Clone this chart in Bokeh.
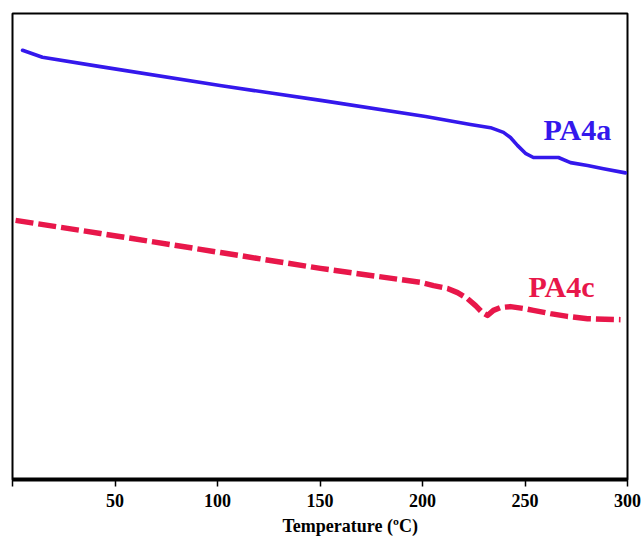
from bokeh.plotting import figure
from bokeh.models import FixedTicker, Range1d, Label, Title
from bokeh.embed import file_html
from bokeh.resources import INLINE

# PA4a (solid blue)
temp_a = [4.9, 14.6, 42.9, 102.0, 151.2, 201.5, 223.4, 233.2, 239.5, 242.9, 246.3, 250.2, 254.1,
          261.0, 266.3, 272.2, 280.5, 288.3, 299.0]
flow_a = [9.21, 9.06, 8.86, 8.45, 8.13, 7.79, 7.62, 7.55, 7.45, 7.34, 7.17, 7.00, 6.91,
          6.91, 6.91, 6.80, 6.74, 6.67, 6.58]

# PA4c (dashed red)
temp_c = [1.5, 42.9, 101.5, 150.2, 189.3, 199.0, 205.4, 212.2, 217.1, 222.0, 225.9, 229.3, 231.7,
          234.6, 238.0, 242.9, 249.3, 254.1, 262.4, 270.7, 280.5, 296.6]
flow_c = [5.56, 5.28, 4.87, 4.53, 4.29, 4.23, 4.16, 4.10, 4.01, 3.88, 3.73, 3.58, 3.52,
          3.63, 3.69, 3.71, 3.67, 3.63, 3.56, 3.50, 3.45, 3.43]

tick_values = [0, 50, 100, 150, 200, 250, 300]
tick_labels = ["", "50", "100", "150", "200", "250", "300"]

label_a = "PA4a"
label_a_pos = (259.0, 7.16)
label_c = "PA4c"
label_c_pos = (251.7, 3.79)

x_title = "Temperature (\u00baC)"

BLUE = "#3418EC"
RED = "#E8174A"
SERIF = "Liberation Serif"

p = figure(width=643, height=540, output_backend="svg", toolbar_location=None,
           x_range=Range1d(0, 300), y_range=Range1d(0, 10), y_axis_location=None,
           min_border_left=12, min_border_right=16, min_border_top=13, min_border_bottom=61)

p.xgrid.visible = False
p.ygrid.visible = False
p.outline_line_color = "black"
p.outline_line_width = 2
p.background_fill_color = "white"
p.border_fill_color = "white"

ax = p.xaxis[0]
ax.ticker = FixedTicker(ticks=tick_values)
ax.major_label_overrides = {v: t for v, t in zip(tick_values, tick_labels)}
ax.axis_line_width = 4
ax.axis_line_color = "black"
ax.major_tick_in = 0
ax.major_tick_out = 7
ax.major_tick_line_width = 1.5
ax.minor_tick_line_color = None
ax.major_label_standoff = 7
ax.major_label_text_font = SERIF
ax.major_label_text_font_style = "bold"
ax.major_label_text_font_size = "18px"
ax.major_label_text_color = "black"

p.add_layout(Title(text=x_title, align="left", offset=270, standoff=9,
                   text_font=SERIF, text_font_size="18px", text_font_style="bold",
                   text_color="black"), "below")

p.line(temp_a, flow_a, line_color=BLUE, line_width=3.6, line_join="round", line_cap="round")
p.line(temp_c, flow_c, line_color=RED, line_width=5.5, line_dash="18 5", line_join="round")

p.add_layout(Label(x=label_a_pos[0], y=label_a_pos[1], text=label_a, text_font=SERIF,
                   text_font_size="30px", text_font_style="bold", text_color=BLUE))
p.add_layout(Label(x=label_c_pos[0], y=label_c_pos[1], text=label_c, text_font=SERIF,
                   text_font_size="30px", text_font_style="bold", text_color=RED))

open("out.html", "w").write(file_html(p, INLINE))
